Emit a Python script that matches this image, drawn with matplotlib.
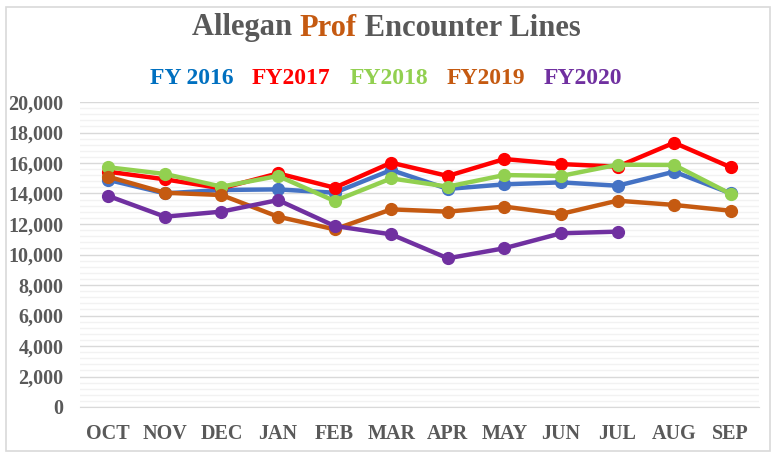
import matplotlib
matplotlib.use("Agg")
import matplotlib.pyplot as plt
from matplotlib.ticker import MultipleLocator, FuncFormatter
from matplotlib.patches import Rectangle

months = ['OCT', 'NOV', 'DEC', 'JAN', 'FEB', 'MAR', 'APR', 'MAY', 'JUN', 'JUL', 'AUG', 'SEP']

fy2016 = [14890, 14010, 14230, 14270, 14050, 15540, 14300, 14600, 14730, 14510, 15430, 14010]
fy2017 = [15430, 14930, 14340, 15320, 14380, 16020, 15150, 16260, 15930, 15760, 17330, 15720]
fy2018 = [15720, 15280, 14450, 15150, 13510, 14990, 14450, 15210, 15150, 15890, 15870, 13970]
fy2019 = [15100, 14050, 13900, 12480, 11650, 12960, 12810, 13140, 12660, 13530, 13250, 12870]
fy2020 = [13840, 12480, 12810, 13570, 11870, 11320, 9750, 10410, 11390, 11500]

series = [
    ('FY 2016', fy2016, '#4472C4', '#0070C0'),
    ('FY2017', fy2017, '#FF0000', '#FF0000'),
    ('FY2018', fy2018, '#92D050', '#92D050'),
    ('FY2019', fy2019, '#C55A11', '#C55A11'),
    ('FY2020', fy2020, '#7030A0', '#7030A0'),
]

plt.rcParams['font.family'] = ['Liberation Serif', 'DejaVu Serif']

W, H = 772, 453
fig = plt.figure(figsize=(W / 100, H / 100), dpi=100)
fig.patches.append(Rectangle((6 / W, 2 / H), 764 / W, 444 / H, transform=fig.transFigure,
                             fill=False, edgecolor='#D9D9D9', linewidth=1.2))

ax = fig.add_axes([80 / W, 46 / H, 679 / W, 305 / H])
x = list(range(len(months)))
for label, vals, col, _ in series:
    ax.plot(x[:len(vals)], vals, color=col, linewidth=3.2, marker='o', markersize=8.5,
            solid_capstyle='round', zorder=3)

ax.set_xlim(-0.5, 11.5)
ax.set_ylim(0, 20000)
ax.yaxis.set_major_locator(MultipleLocator(2000))
ax.yaxis.set_minor_locator(MultipleLocator(400))
ax.yaxis.set_major_formatter(FuncFormatter(lambda v, p: f'{int(v):,}'))
ax.set_xticks(x)
ax.set_xticklabels(months)
ax.grid(axis='y', which='major', color='#D9D9D9', linewidth=1.0)
ax.grid(axis='y', which='minor', color='#F2F2F2', linewidth=1.0)
ax.set_axisbelow(True)
for s in ['top', 'right', 'left']:
    ax.spines[s].set_visible(False)
ax.spines['bottom'].set_color('#D9D9D9')
ax.tick_params(axis='both', which='both', length=0, labelsize=14.5, colors='#595959')
ax.tick_params(axis='x', pad=12)
ax.tick_params(axis='y', pad=12)
for t in ax.get_xticklabels() + ax.get_yticklabels():
    t.set_fontweight('bold')

# multi-coloured title and text legend
fig.canvas.draw()
renderer = fig.canvas.get_renderer()

def colored_line(parts, y, size, gap=0.0):
    texts = []
    for s, c in parts:
        t = fig.text(0, y, s, color=c, fontsize=size, fontweight='bold', va='center', ha='left')
        texts.append(t)
    widths = [t.get_window_extent(renderer).width / fig.bbox.width for t in texts]
    total = sum(widths) + gap * (len(texts) - 1)
    xpos = 0.5 - total / 2
    for t, w in zip(texts, widths):
        t.set_x(xpos)
        xpos += w + gap

colored_line([('Allegan ', '#595959'), ('Prof', '#C55A11'), (' Encounter Lines', '#595959')],
             1 - 28 / H, 22)
colored_line([(lab, lc) for lab, _, _, lc in series], 1 - 78 / H, 17, gap=0.024)

fig.savefig('out.png', dpi=100)
